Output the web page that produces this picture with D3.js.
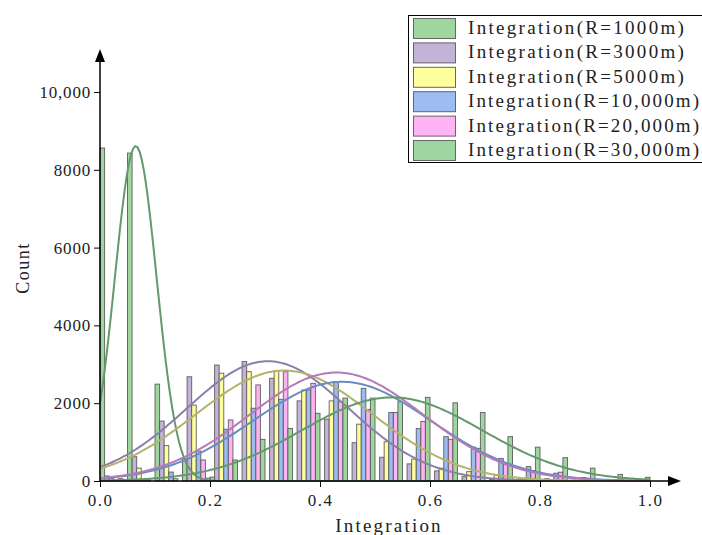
<!DOCTYPE html>
<meta charset="utf-8">
<style>
  body { margin: 0; background: #fff; }
  text { font-family: "Liberation Serif", "DejaVu Serif", serif; fill: #222; }
</style>
<script src="https://d3js.org/d3.v7.min.js"></script>
<div id="chart"></div>
<script>

    // bin starts (width 0.05) and counts per search radius
    const binStarts = [0, 0.05, 0.1, 0.15, 0.2, 0.25, 0.3, 0.35, 0.4, 0.45,
                       0.5, 0.55, 0.6, 0.65, 0.7, 0.75, 0.8, 0.85, 0.9, 0.95];
    const r1000  = [8560, 8430, 2490, 580, 100, 0, 0, 0, 0, 0, 0, 0, 0, 0, 0, 0, 0, 0, 0, 0];
    const r3000  = [130, 625, 1540, 2680, 2980, 3070, 2640, 2060, 1590, 985, 610, 440, 260, 110, 40, 50, 60, 20, 0, 0];
    const r5000  = [60, 330, 910, 1950, 2770, 2810, 2840, 2340, 2060, 1460, 1010, 560, 330, 240, 150, 30, 20, 0, 0, 0];
    const r10000 = [20, 30, 230, 770, 1330, 1870, 2100, 2340, 2550, 2380, 1760, 1350, 1140, 870, 580, 370, 200, 90, 30, 10];
    const r20000 = [60, 30, 60, 540, 1570, 2470, 2810, 2510, 2040, 1840, 1760, 1530, 1070, 840, 450, 270, 225, 70, 20, 0];
    const r30000 = [10, 0, 0, 70, 540, 1070, 1350, 1740, 2130, 2130, 2040, 2150, 2010, 1760, 1140, 870, 600, 330, 170, 95];

    const seriesNames = ["Integration(R=1000m)", "Integration(R=3000m)", "Integration(R=5000m)",
                         "Integration(R=10,000m)", "Integration(R=20,000m)", "Integration(R=30,000m)"];
    const seriesCounts = [r1000, r3000, r5000, r10000, r20000, r30000];

    // normal fit curves: mean, sd, peak count
    const fitMean = [0.065, 0.305, 0.335, 0.44, 0.43, 0.531];
    const fitSd   = [0.038, 0.147, 0.16, 0.162, 0.159, 0.164];
    const fitPeak = [8610, 3080, 2840, 2550, 2790, 2150];

    const xTicks = [0, 0.2, 0.4, 0.6, 0.8, 1.0];
    const yTicks = [0, 2000, 4000, 6000, 8000, 10000];

    const fills  = ["#9fd69f", "#c3b3d8", "#ffff9d", "#9dbcf2", "#ffb3f5", "#9fd69f"];
    const curveColors = ["#65986a", "#8c80a8", "#b3b36c", "#6a8cc2", "#b67ab8", "#65986a"];

    const width = 702, height = 535;

    const svg = d3.select("#chart").append("svg")
        .attr("width", width)
        .attr("height", height);

    const x = d3.scaleLinear().domain([0, 1]).range([100, 650]);
    const y = d3.scaleLinear().domain([0, 10000]).range([481, 92]);

    const bw = (x(0.05) - x(0)) / 6;

    // bars
    seriesCounts.forEach(function (counts, s) {
        svg.append("g").selectAll("rect")
            .data(counts.map(function (c, i) { return {b: binStarts[i], c: c}; }))
            .enter().append("rect")
            .attr("x", function (d) { return x(d.b) + s * bw; })
            .attr("y", function (d) { return y(d.c); })
            .attr("width", bw)
            .attr("height", function (d) { return y(0) - y(d.c); })
            .attr("fill", fills[s])
            .attr("stroke", "#555")
            .attr("stroke-opacity", function (d) { return d.c > 0 ? 0.85 : 0; })
            .attr("stroke-width", 1);
    });

    // fitted curves
    const xs = d3.range(0, 1.0001, 0.004);
    const line = d3.line().x(function (d) { return x(d[0]); }).y(function (d) { return y(d[1]); });
    fitMean.forEach(function (m, s) {
        const pts = xs.map(function (v) {
            return [v, fitPeak[s] * Math.exp(-((v - m) * (v - m)) / (2 * fitSd[s] * fitSd[s]))];
        });
        svg.append("path")
            .attr("d", line(pts))
            .attr("fill", "none")
            .attr("stroke", curveColors[s])
            .attr("stroke-width", 2);
    });

    // axes
    const xAxis = svg.append("g").attr("transform", "translate(0," + y(0) + ")")
        .call(d3.axisBottom(x).tickValues(xTicks).tickFormat(d3.format(".1f")).tickSizeOuter(0).tickSize(6));
    xAxis.select(".domain").attr("d", "M100,0H672").attr("stroke-width", 1.5);
    xAxis.selectAll("text").attr("font-size", "17px").attr("letter-spacing", "1.5px")
        .attr("dy", "0.95em").style("font-family", "Liberation Serif");

    const yAxis = svg.append("g").attr("transform", "translate(" + x(0) + ",0)")
        .call(d3.axisLeft(y).tickValues(yTicks)
            .tickFormat(function (d) { return d >= 10000 ? d3.format(",")(d) : d; })
            .tickSizeOuter(0).tickSize(6));
    yAxis.select(".domain").attr("d", "M0,481V58").attr("stroke-width", 1.5);
    yAxis.selectAll("text").attr("font-size", "17px").attr("letter-spacing", "0.8px")
        .style("font-family", "Liberation Serif");

    // arrow heads
    svg.append("path").attr("d", "M95,62L100,49L105,62Z").attr("fill", "#000");
    svg.append("path").attr("d", "M668,476L681,481L668,486Z").attr("fill", "#000");

    // axis titles
    svg.append("text")
        .attr("x", 389).attr("y", 532)
        .attr("text-anchor", "middle")
        .attr("font-size", "19px").attr("letter-spacing", "2.2px")
        .text("Integration");

    svg.append("text")
        .attr("transform", "translate(29,268) rotate(-90)")
        .attr("text-anchor", "middle")
        .attr("font-size", "18px").attr("letter-spacing", "1.5px")
        .text("Count");

    // legend
    const legend = svg.append("g");
    legend.append("rect")
        .attr("x", 408.5).attr("y", 15.5)
        .attr("width", 300).attr("height", 147)
        .attr("fill", "#fff").attr("stroke", "#000").attr("stroke-width", 1);

    seriesNames.forEach(function (name, i) {
        const ry = 18 + i * 24.4;
        legend.append("rect")
            .attr("x", 413.5).attr("y", ry + 0.5)
            .attr("width", 42).attr("height", 20)
            .attr("fill", fills[i]).attr("stroke", "#666");
        const t = legend.append("text")
            .attr("x", 468).attr("y", ry + 16)
            .attr("font-size", "19px").attr("letter-spacing", "2.3px")
            .text(name);
        // long labels squeezed a little so they stay inside the window
        if (name.length > 20) {
            t.attr("letter-spacing", null)
             .attr("textLength", 231)
             .attr("lengthAdjust", "spacing");
        }
    });

</script>
